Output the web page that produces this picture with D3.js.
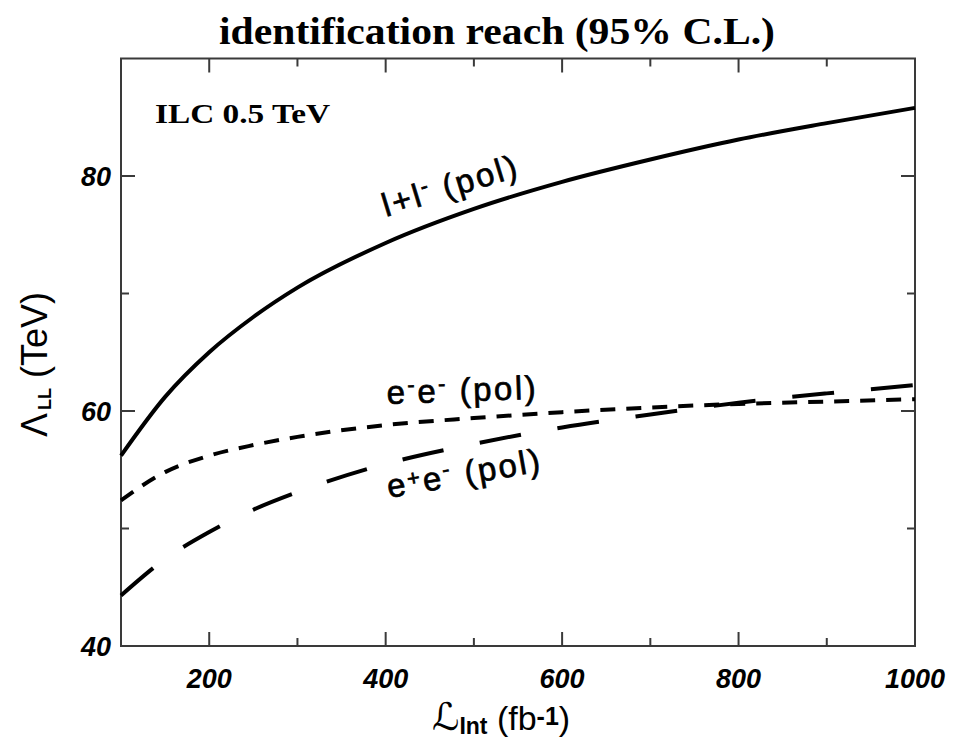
<!DOCTYPE html>
<html><head><meta charset="utf-8">
<script src="https://cdn.jsdelivr.net/npm/d3@7"></script>
<style>body{margin:0;background:#fff;} svg{display:block;}</style>
</head><body>
<svg id="c" width="953" height="750"></svg>
<script>
// ---- data ----
const lumi = [100,150,200,250,300,400,500,600,700,800,900,1000];
const llPol   = [56.2,61.2,65.0,68.0,70.5,74.3,77.2,79.5,81.4,83.1,84.5,85.8];
const eeMinus = [52.4,54.8,56.2,57.1,57.8,58.8,59.4,59.9,60.3,60.6,60.8,61.0];
const eePlus  = [44.3,47.4,49.7,51.6,53.1,55.5,57.2,58.6,59.7,60.7,61.5,62.2];
const xMajor = [200,400,600,800,1000];
const xMinor = [300,500,700,900];
const yMajor = [40,60,80];
const yMinor = [50,70];

const svg = d3.select('#c');
const L = 121, R = 915, T = 58.5, B = 646;
const x = d3.scaleLinear().domain([100,1000]).range([L,R]);
const y = d3.scaleLinear().domain([40,90]).range([B,T]);

// frame
svg.append('rect').attr('x',L).attr('y',T).attr('width',R-L).attr('height',B-T)
  .attr('fill','none').attr('stroke','#3a3a3a').attr('stroke-width',2);

// ticks (inward, all four sides)
const g = svg.append('g').attr('stroke','#3a3a3a').attr('stroke-width',2);
const maj = 14, mn = 8;
xMajor.concat(xMinor).forEach(v=>{
  const len = xMajor.includes(v)?maj:mn;
  g.append('line').attr('x1',x(v)).attr('x2',x(v)).attr('y1',B).attr('y2',B-len);
  g.append('line').attr('x1',x(v)).attr('x2',x(v)).attr('y1',T).attr('y2',T+len);
});
yMajor.concat(yMinor).forEach(v=>{
  const len = yMajor.includes(v)?maj:mn;
  g.append('line').attr('y1',y(v)).attr('y2',y(v)).attr('x1',L).attr('x2',L+len);
  g.append('line').attr('y1',y(v)).attr('y2',y(v)).attr('x1',R).attr('x2',R-len);
});

// tick labels
const tickFont = {'font-family':'Liberation Sans, Arial, sans-serif','font-weight':'bold','font-style':'italic','font-size':'27px'};
function applyF(sel,f){Object.entries(f).forEach(([k,v])=>sel.attr(k,v));return sel;}
xMajor.forEach(v=>{
  applyF(svg.append('text'),tickFont).attr('x',x(v)).attr('y',688).attr('text-anchor','middle').text(v);
});
yMajor.forEach(v=>{
  applyF(svg.append('text'),tickFont).attr('x',111).attr('y',y(v)+10).attr('text-anchor','end').text(v);
});

// curves
const line = d3.line().x((d,i)=>x(lumi[i])).y(d=>y(d)).curve(d3.curveMonotoneX);
svg.append('path').attr('d',line(llPol)).attr('fill','none').attr('stroke','#000').attr('stroke-width',4);
svg.append('path').attr('d',line(eeMinus)).attr('fill','none').attr('stroke','#000').attr('stroke-width',4)
  .attr('stroke-dasharray','15,11');
svg.append('path').attr('d',line(eePlus)).attr('fill','none').attr('stroke','#000').attr('stroke-width',4)
  .attr('stroke-dasharray','42,37');

// title
svg.append('text').attr('x',219).attr('y',44)
  .attr('font-family','Liberation Serif, Times New Roman, serif').attr('font-weight','bold').attr('font-size','37px')
  .attr('textLength',556).attr('lengthAdjust','spacingAndGlyphs')
  .text('identification reach (95% C.L.)');

// ILC label
svg.append('text').attr('x',155).attr('y',123)
  .attr('font-family','Liberation Serif, Times New Roman, serif').attr('font-weight','bold').attr('font-size','28px')
  .attr('textLength',175).attr('lengthAdjust','spacingAndGlyphs')
  .text('ILC 0.5 TeV');

// curve labels
const lf = {'font-family':'Liberation Sans, Arial, sans-serif','font-size':'33px','letter-spacing':'2.5px',
            'stroke':'#000','stroke-width':'0.7'};
function curveLabel(px,py,rot,parts){
  const t = applyF(svg.append('text'),lf).attr('transform',`translate(${px},${py}) rotate(${rot})`);
  parts.forEach(p=>{
    const s = t.append('tspan').text(p.t);
    if(p.sup){ s.attr('font-size','22px').attr('dy',p.dy); }
    else if(p.dy){ s.attr('dy',p.dy); }
  });
  return t;
}
curveLabel(386,217,-17,[{t:'l'},{t:'+',dy:0},{t:'l'},{t:'-',sup:true,dy:-11},{t:' (pol)',dy:11}]);
curveLabel(387,404,-2,[{t:'e'},{t:'-',sup:true,dy:-11},{t:'e',dy:11},{t:'-',sup:true,dy:-11},{t:' (pol)',dy:11}]);
curveLabel(389,498,-10,[{t:'e'},{t:'+',sup:true,dy:-8},{t:'e',dy:8},{t:'-',sup:true,dy:-11},{t:' (pol)',dy:11}]);

// y axis label
const yl = svg.append('text').attr('transform','translate(47,437) rotate(-90)')
  .attr('font-family','Liberation Sans, Arial, sans-serif').attr('font-size','36px');
yl.append('tspan').text('Λ');
yl.append('tspan').text('LL').attr('font-size','18px').attr('font-weight','bold').attr('dy',4).attr('dx',3);
yl.append('tspan').text(' (TeV)').attr('dy',-4);

// x axis label
const xl = svg.append('text').attr('x',432).attr('y',730)
  .attr('font-family','DejaVu Sans, sans-serif').attr('font-size','38px');
xl.append('tspan').text('ℒ').attr('font-style','italic');
xl.append('tspan').text('Int').attr('font-family','Liberation Sans, Arial, sans-serif').attr('font-weight','bold').attr('font-size','23px').attr('dy',4);
xl.append('tspan').text(' (fb').attr('font-family','Liberation Sans, Arial, sans-serif').attr('font-size','34px').attr('dy',-4);
xl.append('tspan').text('-1').attr('font-family','Liberation Sans, Arial, sans-serif').attr('font-weight','bold').attr('font-size','25px').attr('dy',-5);
xl.append('tspan').text(')').attr('font-family','Liberation Sans, Arial, sans-serif').attr('font-size','34px').attr('dy',5);
</script>
</body></html>
